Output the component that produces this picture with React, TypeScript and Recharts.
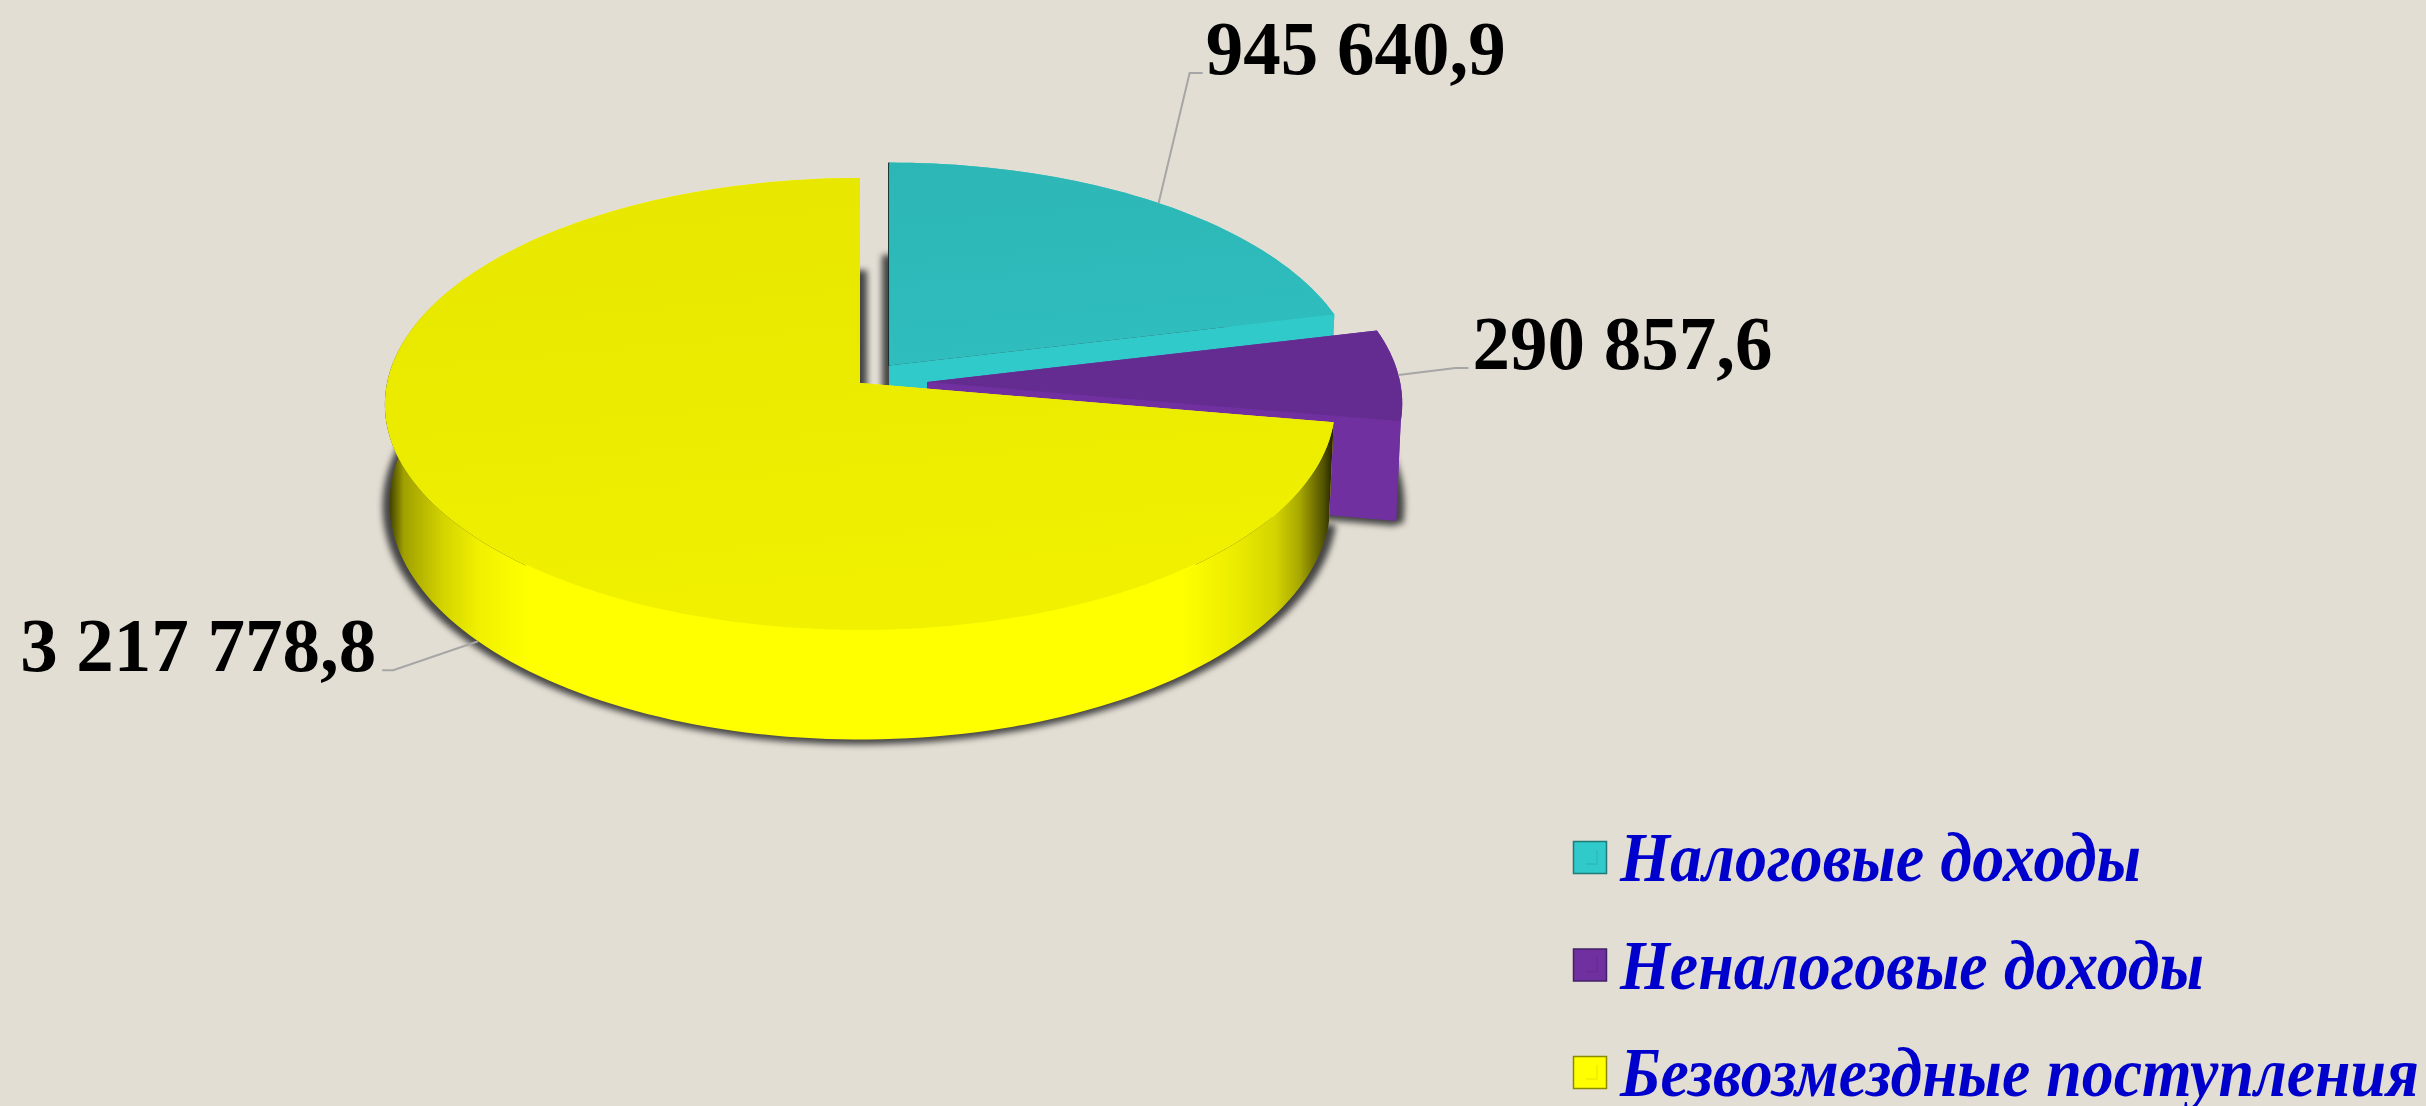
import React from 'react';
import { PieChart, Pie, Cell, Legend } from 'recharts';

const categories = ['Налоговые доходы', 'Неналоговые доходы', 'Безвозмездные поступления'];
const seriesValues = [945640.9, 290857.6, 3217778.8];
const topColors = ['#2DB6B6', '#642C90', '#E6E600'];
const wallColors = ['#30CACA', '#7030A0', '#FFFF00'];
const explodeFactors = [0.1, 0.142, 0];
const sizeFactors = [0.99, 1, 1];
const legendWidths = [521, 584, 799];
const labelWidths = [300, 300, 356];

const data = categories.map((name, i) => ({ name, value: seriesValues[i] }));

const BG = '#E3DED3';
const RATIO_Y = 0.4744;
const PERSPECTIVE = 0.0948;
const DEPTH = 98;
const BOTTOM_RY = 234;
const BOTTOM_SCALE = 0.99;
const LEADER = '#A6A6A6';

const leaderOffsets = [
  { mid: [31, -130], end: [13, 0], gap: 3, anchor: 'start', bottom: false },
  { mid: [57, -7], end: [13, 0], gap: 4, anchor: 'start', bottom: false },
  { mid: [-85, 29], end: [-11, 0], gap: -6, anchor: 'end', bottom: true },
];

const rad = (d: number) => (d * Math.PI) / 180;

function project(theta: number, R: number, bottom: boolean, e = 1) {
  const u = Math.sin(rad(theta)) * e;
  const v = Math.cos(rad(theta)) * e;
  const w = 1 + PERSPECTIVE * v;
  if (bottom) {
    return { x: (R * BOTTOM_SCALE * u) / w, y: (-BOTTOM_RY * (R / 473) * v) / w + DEPTH, v };
  }
  return { x: (R * u) / w, y: (-R * RATIO_Y * v) / w, v };
}

function sliceGeometry(p: any, index: number) {
  const R = p.outerRadius;
  const t0 = 90 - p.startAngle;
  const t1 = 90 - p.endAngle;
  const mid = (t0 + t1) / 2;
  const off = project(mid, R, false, explodeFactors[index]);
  const ax = p.cx + off.x;
  const ay = p.cy + off.y;
  const arc = (bottom: boolean) => {
    const pts: { x: number; y: number; v: number }[] = [];
    const n = Math.max(4, Math.ceil((t1 - t0) / 1.5));
    for (let i = 0; i <= n; i++) {
      const q = project(t0 + ((t1 - t0) * i) / n, R * sizeFactors[index], bottom);
      pts.push({ x: ax + q.x, y: ay + q.y, v: q.v });
    }
    return pts;
  };
  return { ax, ay, R, t0, t1, topArc: arc(false), botArc: arc(true) };
}

const toPath = (pts: { x: number; y: number }[], close = true) =>
  pts.map((q, i) => `${i ? 'L' : 'M'}${q.x.toFixed(2)} ${q.y.toFixed(2)}`).join('') + (close ? 'Z' : '');

function ShadowShape(p: any) {
  const index = p.index ?? data.findIndex((d) => d.name === p.name);
  const g = sliceGeometry(p, index);
  const apex = { x: g.ax, y: g.ay + DEPTH };
  const d = toPath([apex, ...g.botArc]);
  return (
    <g style={{ filter: 'blur(3px)' }} fill="#444444">
      <path d={d} transform="translate(-7 3)" />
      <path d={d} transform="translate(7 3)" />
      <path d={d} transform="translate(0 5)" />
    </g>
  );
}

function SliceShape(p: any) {
  const index = p.index ?? data.findIndex((d) => d.name === p.name);
  const g = sliceGeometry(p, index);
  const wall = wallColors[index];
  const top = topColors[index];
  const apexTop = { x: g.ax, y: g.ay };
  const apexBot = { x: g.ax, y: g.ay + DEPTH };
  const firstT = g.topArc[0];
  const firstB = g.botArc[0];
  const lastT = g.topArc[g.topArc.length - 1];
  const lastB = g.botArc[g.botArc.length - 1];
  const wallPts = [...g.topArc, ...[...g.botArc].reverse()];
  const frontRim = g.topArc.filter((q) => q.v < 0 && Math.abs(q.x - g.ax) < 0.72 * g.R);
  const gradId = `wall-${index}`;
  const topId = `top-${index}`;
  const curved = index === 2;
  return (
    <g>
      <defs>
        <linearGradient id={gradId} x1="0" y1="0" x2="1" y2="0">
          <stop offset="0" stopColor="#2E2E00" />
          <stop offset="0.005" stopColor="#404000" />
          <stop offset="0.02" stopColor="#A0A000" />
          <stop offset="0.062" stopColor="#D4D400" />
          <stop offset="0.098" stopColor="#F0F000" />
          <stop offset="0.15" stopColor="#FFFF00" />
          <stop offset="0.84" stopColor="#FFFF00" />
          <stop offset="0.9" stopColor="#EAEA00" />
          <stop offset="0.938" stopColor="#D4D400" />
          <stop offset="0.964" stopColor="#A8A800" />
          <stop offset="0.99" stopColor="#505000" />
          <stop offset="1" stopColor="#1E1E00" />
        </linearGradient>
        <linearGradient id={topId} x1="0" y1="0" x2="0.2" y2="1">
          <stop offset="0" stopColor={top} />
          <stop offset="1" stopColor={index === 2 ? '#F0F000' : index === 0 ? '#2FBDBD' : top} />
        </linearGradient>
      </defs>
      <path d={toPath([apexTop, firstT, firstB, apexBot])} fill={wall} />
      <path d={toPath([apexTop, lastT, lastB, apexBot])} fill={wall} />
      <path d={toPath(wallPts)} fill={curved ? `url(#${gradId})` : wall} />
      {Math.abs(g.t0) < 0.01 && (
        <line x1={apexTop.x} y1={apexTop.y} x2={firstT.x} y2={firstT.y} stroke="#10302F" strokeWidth={2} />
      )}
      <path d={toPath([apexTop, ...g.topArc])} fill={`url(#${topId})`} />
      {frontRim.length > 1 && curved && <path d={toPath(frontRim, false)} fill="none" stroke={wall} strokeWidth={2} />}
    </g>
  );
}

const formatValue = (v: number) => {
  const [a, b] = v.toFixed(1).split('.');
  return `${a.replace(/\B(?=(\d{3})+(?!\d))/g, ' ')},${b}`;
};

function renderLabel(p: any) {
  const { index, cx, cy, outerRadius: R, midAngle, value } = p;
  const o = leaderOffsets[index];
  const theta = 90 - midAngle;
  const off = project(theta, R, false, explodeFactors[index]);
  const rim = project(theta, R * sizeFactors[index], o.bottom);
  const x0 = cx + off.x + rim.x;
  const y0 = cy + off.y + rim.y;
  const x1 = x0 + o.mid[0];
  const y1 = y0 + o.mid[1];
  const x2 = x1 + o.end[0];
  const y2 = y1 + o.end[1];
  return (
    <g key={`label-${index}`}>
      <polyline points={`${x0},${y0} ${x1},${y1} ${x2},${y2}`} fill="none" stroke={LEADER} strokeWidth={2} />
      <text
        x={x2 + o.gap}
        y={y2 + 1}
        textAnchor={o.anchor as any}
        textLength={labelWidths[index]}
        lengthAdjust="spacingAndGlyphs"
        fontFamily="'Liberation Serif', serif"
        fontWeight="bold"
        fontSize={77}
        fill="#000"
      >
        {formatValue(value)}
      </text>
    </g>
  );
}

function LegendContent() {
  return (
    <svg width={856} height={306} style={{ display: 'block' }}>
      {categories.map((c, i) => (
        <g key={c}>
          <rect
            x={3.5}
            y={41.5 + i * 107.5}
            width={33}
            height={32}
            fill={wallColors[i]}
            stroke={i === 0 ? '#1F7A7A' : i === 1 ? '#43206A' : '#8A8A00'}
            strokeWidth={1.5}
          />
          <path
            d={`M27 ${50 + i * 107.5}V${64 + i * 107.5}H16`}
            fill="none"
            stroke="#000"
            strokeOpacity={0.07}
            strokeWidth={1.5}
          />
          <text
            x={50}
            y={81 + i * 107.5}
            textLength={legendWidths[i]}
            lengthAdjust="spacingAndGlyphs"
            fontFamily="'Liberation Serif', serif"
            fontWeight="bold"
            fontStyle="italic"
            fontSize={69}
            fill="#0000CC"
          >
            {c}
          </text>
        </g>
      ))}
    </svg>
  );
}

export default function App() {
  return (
    <div style={{ position: 'fixed', left: 0, top: 0, width: 2426, height: 1106, background: BG, overflow: 'hidden' }}>
      <PieChart width={2426} height={1106} margin={{ top: 0, right: 0, bottom: 0, left: 0 }}>
        <Pie
          data={data}
          dataKey="value"
          nameKey="name"
          cx={860}
          cy={383}
          outerRadius={473}
          startAngle={90}
          endAngle={-270}
          stroke="none"
          legendType="none"
          isAnimationActive={false}
          shape={ShadowShape}
          inactiveShape={ShadowShape}
          activeShape={ShadowShape}
        />
        <Pie
          data={data}
          dataKey="value"
          nameKey="name"
          cx={860}
          cy={383}
          outerRadius={473}
          startAngle={90}
          endAngle={-270}
          stroke="none"
          label={renderLabel}
          labelLine={false}
          isAnimationActive={false}
          shape={SliceShape}
          inactiveShape={SliceShape}
          activeShape={SliceShape}
        >
          {data.map((d, i) => (
            <Cell key={d.name} fill={wallColors[i]} />
          ))}
        </Pie>
        <Legend
          content={LegendContent}
          wrapperStyle={{ position: 'absolute', left: 1570, top: 800, width: 856, height: 306 }}
        />
      </PieChart>
    </div>
  );
}
